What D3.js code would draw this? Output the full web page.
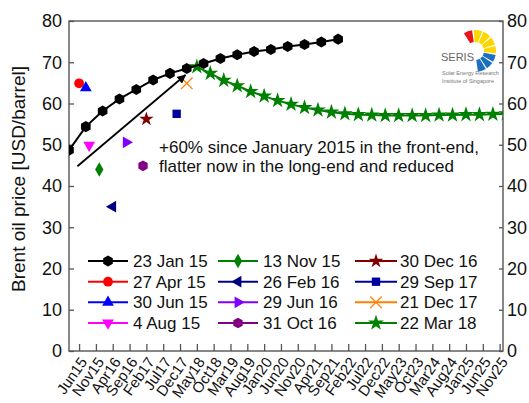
<!DOCTYPE html>
<html>
<head>
<meta charset="utf-8">
<script src="https://cdn.jsdelivr.net/npm/d3@7"></script>
<style>
  html, body { margin: 0; padding: 0; background: #fff; }
  svg { display: block; font-family: Arial, "Liberation Sans", sans-serif; }
</style>
</head>
<body>
<svg id="chart" width="529" height="403"></svg>
<script>
// ---------- data ----------
// x values are month indices counted from Jan 2015 (Jan 2015 = 0)
const xTickMonths = [5,10,15,20,25,30,35,40,45,50,55,60,65,70,75,80,85,90,95,100,105,110,115,120,125,130];
const xTickLabels = ["Jun15","Nov15","Apr16","Sep16","Feb17","Jul17","Dec17","May18","Oct18","Mar19","Aug19","Jan20","Jun20","Nov20","Apr21","Sep21","Feb22","Jul22","Dec22","May23","Oct23","Mar24","Aug24","Jan25","Jun25","Nov25"];
const yTicks = [0,10,20,30,40,50,60,70,80];

// 23 Jan 15 forward curve
const jan15Months = [2,7,12,17,22,27,32,37,42,47,52,57,62,67,72,77,82];
const jan15Values = [48.7,54.4,58.2,61.1,63.4,65.7,67.3,68.5,69.7,70.9,71.8,72.6,73.1,73.8,74.3,74.9,75.6];

// 22 Mar 18 forward curve
const mar18Months = [40,44,48,52,56,60,64,68,72,76,80,84,88,92,96,100,104,108,112,116,120,124,128,132];
const mar18Values = [68.9,67.3,65.6,64.3,62.9,61.8,60.7,59.8,59.0,58.4,57.9,57.5,57.3,57.2,57.1,57.1,57.1,57.1,57.2,57.2,57.3,57.3,57.4,57.5];

// single front-month points
const singleNames  = ["27 Apr 15","30 Jun 15","4 Aug 15","13 Nov 15","26 Feb 16","29 Jun 16","31 Oct 16","30 Dec 16","29 Sep 17","21 Dec 17"];
const singleMonths = [5,7,8,11,15,19,24,25,34,37];
const singleValues = [64.9,63.8,49.9,44.0,35.0,50.6,44.9,56.2,57.5,64.9];

// legend order (3 columns x 4 rows)
const legendNames = ["23 Jan 15","27 Apr 15","30 Jun 15","4 Aug 15","13 Nov 15","26 Feb 16","29 Jun 16","31 Oct 16","30 Dec 16","29 Sep 17","21 Dec 17","22 Mar 18"];

// annotation arrow (month, value) start and end
const arrowFrom = [4.5, 44.8];
const arrowTo = [36.6, 66.9];
const noteLines = ["+60% since January 2015 in the front-end,", "flatter now in the long-end and reduced"];

// ---------- styles ----------
const hexagon = {
  draw(ctx, size) {
    const r = Math.sqrt(size * 2 / (3 * Math.sqrt(3)));
    for (let i = 0; i < 6; i++) {
      const a = Math.PI / 6 + i * Math.PI / 3;
      const px = r * Math.cos(a), py = r * Math.sin(a);
      if (i === 0) ctx.moveTo(px, py); else ctx.lineTo(px, py);
    }
    ctx.closePath();
  }
};
const styles = {
  "23 Jan 15": {color:"#000000", type:hexagon, size:80, rot:0},
  "27 Apr 15": {color:"#ff0000", type:d3.symbolCircle, size:75, rot:0},
  "30 Jun 15": {color:"#0000ff", type:d3.symbolTriangle, size:60, rot:0},
  "4 Aug 15":  {color:"#ff00ff", type:d3.symbolTriangle, size:60, rot:180},
  "13 Nov 15": {color:"#008000", type:d3.symbolDiamond, size:60, rot:0},
  "26 Feb 16": {color:"#000080", type:d3.symbolTriangle, size:60, rot:-90},
  "29 Jun 16": {color:"#8000ff", type:d3.symbolTriangle, size:60, rot:90},
  "31 Oct 16": {color:"#800080", type:hexagon, size:75, rot:0},
  "30 Dec 16": {color:"#800000", type:d3.symbolStar, size:65, rot:0},
  "29 Sep 17": {color:"#0000a0", type:d3.symbolSquare, size:70, rot:0},
  "21 Dec 17": {color:"#ff8000", type:d3.symbolX, size:90, rot:0, stroke:true},
  "22 Mar 18": {color:"#008000", type:d3.symbolStar, size:78, rot:0}
};

// ---------- layout ----------
const svg = d3.select("#chart");
const L = 69, R = 503, T = 21, B = 351;
const x = d3.scaleLinear().domain([2, 131]).range([L, R]);
const y = d3.scaleLinear().domain([0, 80]).range([B, T]);
const axisColor = "#555";

svg.append("defs").append("clipPath").attr("id","plotclip")
  .append("rect").attr("x", L).attr("y", T).attr("width", R - L).attr("height", B - T);

function drawMarker(g, name, cx, cy) {
  const s = styles[name];
  const p = g.append("path")
    .attr("d", d3.symbol().type(s.type).size(s.size)())
    .attr("transform", `translate(${cx},${cy}) rotate(${s.rot})`);
  if (s.stroke) p.attr("fill","none").attr("stroke", s.color).attr("stroke-width", 1.3);
  else p.attr("fill", s.color);
}

// frame
svg.append("rect").attr("x", L).attr("y", T).attr("width", R - L).attr("height", B - T)
  .attr("fill","none").attr("stroke", axisColor).attr("stroke-width", 1.4);

// axes
const fontTick = "18px";
const yLeft = svg.append("g").attr("transform", `translate(${L},0)`)
  .call(d3.axisLeft(y).tickValues(yTicks).tickSizeInner(-5).tickSizeOuter(0).tickPadding(7));
const yRight = svg.append("g").attr("transform", `translate(${R},0)`)
  .call(d3.axisRight(y).tickValues(yTicks).tickSizeInner(-4).tickSizeOuter(0).tickPadding(4));
const xAx = svg.append("g").attr("transform", `translate(0,${B})`)
  .call(d3.axisBottom(x).tickValues(xTickMonths).tickFormat((d,i) => xTickLabels[i]).tickSizeInner(-7).tickSizeOuter(0));
[yLeft, yRight, xAx].forEach(g => {
  g.select(".domain").remove();
  g.selectAll(".tick line").attr("stroke", axisColor).attr("stroke-width", 1.3);
  g.selectAll(".tick text").attr("fill", "#111").style("font-size", fontTick).style("font-family", "Arial, 'Liberation Sans', sans-serif");
});
xAx.selectAll(".tick text")
  .style("font-size", "15px")
  .attr("y", 0).attr("dy", "0.35em")
  .attr("text-anchor", "end")
  .attr("transform", "translate(4,8) rotate(-55)");

// y title
svg.append("text")
  .attr("transform", `translate(25,179) rotate(-90)`)
  .attr("text-anchor", "middle")
  .style("font-size", "19px").attr("fill", "#111")
  .text("Brent oil price [USD/barrel]");

// plot content
const plot = svg.append("g").attr("clip-path", "url(#plotclip)");
const line = d3.line().x(d => x(d[0])).y(d => y(d[1]));

const jan15 = jan15Months.map((m, i) => [m, jan15Values[i]]);
const mar18 = mar18Months.map((m, i) => [m, mar18Values[i]]);

plot.append("path").datum(mar18).attr("d", line)
  .attr("fill","none").attr("stroke", styles["22 Mar 18"].color).attr("stroke-width", 2);
mar18.forEach(d => drawMarker(plot, "22 Mar 18", x(d[0]), y(d[1])));

plot.append("path").datum(jan15).attr("d", line)
  .attr("fill","none").attr("stroke", "#000").attr("stroke-width", 2);
jan15.forEach(d => drawMarker(plot, "23 Jan 15", x(d[0]), y(d[1])));

singleNames.forEach((n, i) => drawMarker(plot, n, x(singleMonths[i]), y(singleValues[i])));

// arrow
svg.select("defs").append("marker").attr("id","arrowhead")
  .attr("viewBox","0 0 10 10").attr("refX", 9).attr("refY", 5)
  .attr("markerWidth", 9).attr("markerHeight", 9).attr("markerUnits","userSpaceOnUse")
  .attr("orient","auto")
  .append("path").attr("d","M0,0 L10,5 L0,10 Z").attr("fill","#000");
svg.append("line")
  .attr("x1", x(arrowFrom[0])).attr("y1", y(arrowFrom[1]))
  .attr("x2", x(arrowTo[0])).attr("y2", y(arrowTo[1]))
  .attr("stroke","#000").attr("stroke-width", 1.8).attr("marker-end","url(#arrowhead)");

// annotation text
noteLines.forEach((t, i) => {
  svg.append("text").attr("x", 159).attr("y", 152.5 + i * 19.5)
    .style("font-size", "17px").attr("fill", "#111").text(t);
});

// legend
const colX = [[88, 128, 133], [218, 258, 263], [355, 397, 400]];
const rowY = [261, 281.7, 302.3, 323];
legendNames.forEach((n, i) => {
  const c = colX[Math.floor(i / 4)], r = rowY[i % 4];
  const g = svg.append("g");
  g.append("line").attr("x1", c[0]).attr("x2", c[1]).attr("y1", r).attr("y2", r)
    .attr("stroke", styles[n].color).attr("stroke-width", 2);
  drawMarker(g, n, (c[0] + c[1]) / 2, r);
  g.append("text").attr("x", c[2]).attr("y", r + 6)
    .style("font-size", "17px").attr("fill", "#111").text(n);
});

// SERIS logo
const logo = svg.append("g").attr("transform", "translate(475,51)");
const arc = d3.arc().innerRadius(9).outerRadius(21);
const segs = [
  {s:-32, e:-8, c:"#e8141c"},
  {s:-3, e:20, c:"#ffd700"},
  {s:24, e:46, c:"#ffd700"},
  {s:50, e:72, c:"#ffd700"},
  {s:76, e:96, c:"#ffd700"},
  {s:101, e:121, c:"#1c6fc0"},
  {s:125, e:145, c:"#1c6fc0"},
  {s:149, e:172, c:"#1c6fc0"}
];
segs.forEach(d => logo.append("path")
  .attr("d", arc({startAngle: d.s * Math.PI / 180, endAngle: d.e * Math.PI / 180}))
  .attr("fill", d.c));
svg.append("text").attr("x", 441).attr("y", 61).style("font-size", "11px").attr("fill", "#666").text("SERIS");
svg.append("text").attr("x", 442).attr("y", 75).style("font-size", "5.5px").attr("fill", "#777").text("Solar Energy Research");
svg.append("text").attr("x", 442).attr("y", 83).style("font-size", "5.5px").attr("fill", "#777").text("Institute of Singapore");
</script>
</body>
</html>
